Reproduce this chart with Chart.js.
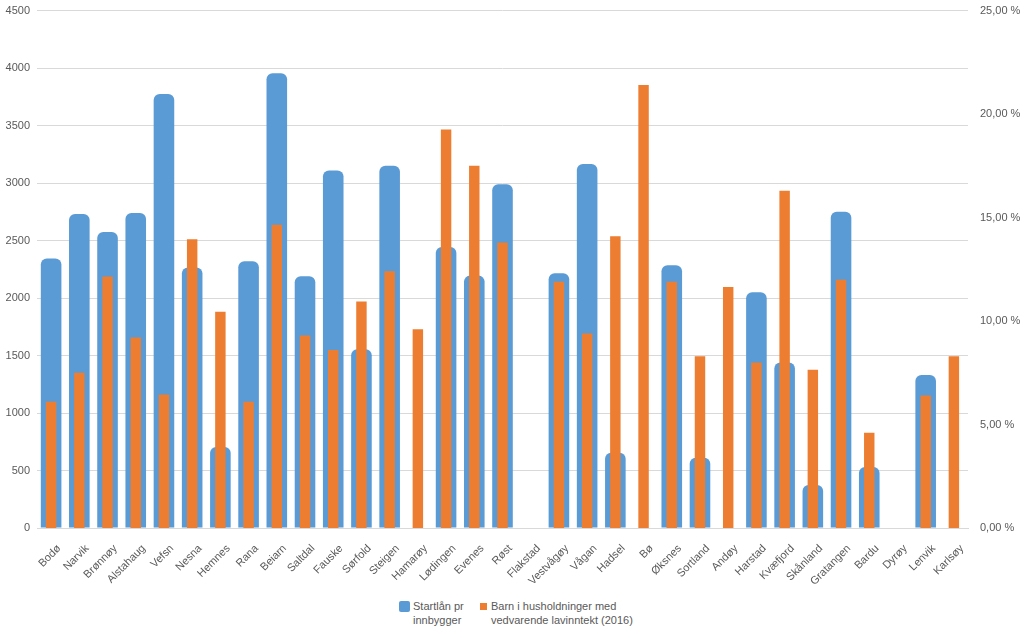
<!DOCTYPE html>
<html>
<head>
<meta charset="utf-8">
<script src="https://cdn.jsdelivr.net/npm/chart.js@4/dist/chart.umd.min.js"></script>
<style>
    body { margin: 0; background: #ffffff; font-family: 'Liberation Sans', Arial, sans-serif; overflow: hidden; }
    #wrap { position: relative; width: 1024px; height: 640px; overflow: hidden; }
    #chartBox { position: absolute; left: 0; top: -8px; width: 1024px; height: 593px; }
    .legend { position: absolute; top: 599px; font-size: 11px; line-height: 14px; color: #595959; }
    .legend .box { position: absolute; left: 0; top: 2px; }
    .legend span.txt { display: block; }
</style>
</head>
<body>
<div id="wrap">
    <div id="chartBox"><canvas id="chart"></canvas></div>
    <div class="legend" style="left:399px;">
        <div class="box" style="width:11px;height:11px;background:#5b9bd5;border-radius:2px;"></div>
        <span class="txt" style="padding-left:14px;">Startlån pr<br>innbygger</span>
    </div>
    <div class="legend" style="left:480px;">
        <div class="box" style="width:7px;height:7px;top:4px;background:#ed7d31;"></div>
        <span class="txt" style="padding-left:11px;">Barn i husholdninger med<br>vedvarende lavinntekt (2016)</span>
    </div>
</div>
<script>
// ============================================
// DATA
// ============================================

const kommuner = ['Bodø', 'Narvik', 'Brønnøy', 'Alstahaug', 'Vefsn', 'Nesna', 'Hemnes', 'Rana',
    'Beiarn', 'Saltdal', 'Fauske', 'Sørfold', 'Steigen', 'Hamarøy', 'Lødingen', 'Evenes', 'Røst',
    'Flakstad', 'Vestvågøy', 'Vågan', 'Hadsel', 'Bø', 'Øksnes', 'Sortland', 'Andøy', 'Harstad',
    'Kvæfjord', 'Skånland', 'Gratangen', 'Bardu', 'Dyrøy', 'Lenvik', 'Karlsøy'];

// Startlån pr innbygger (left axis)
const startlan = [2345, 2730, 2575, 2740, 3775, 2265, 705, 2320,
    3955, 2190, 3110, 1555, 3150, null, 2445, 2195, 2990,
    null, 2215, 3165, 655, null, 2285, 610, null, 2050,
    1440, 375, 2750, 530, null, 1330, null];

// Barn i husholdninger med vedvarende lavinntekt (2016), percent (right axis)
const lavinntekt = [6.1, 7.5, 12.15, 9.2, 6.45, 13.95, 10.45, 6.1,
    14.65, 9.3, 8.6, 10.95, 12.4, 9.6, 19.25, 17.5, 13.8,
    null, 11.9, 9.4, 14.1, 21.4, 11.9, 8.3, 11.65, 8.0,
    16.3, 7.65, 12.0, 4.6, null, 6.4, 8.3];

const leftTicks = [0, 500, 1000, 1500, 2000, 2500, 3000, 3500, 4000, 4500];
const rightTicks = [0, 5, 10, 15, 20, 25];

// ============================================
// CHART
// ============================================

const tickColor = '#595959';
const gridColor = '#d9d9d9';
const tickFont = { family: "'Liberation Sans', Arial, sans-serif", size: 11 };

new Chart(document.getElementById('chart'), {
    type: 'bar',
    data: {
        labels: kommuner,
        datasets: [{
            label: 'Startlån pr innbygger',
            data: startlan,
            yAxisID: 'y',
            backgroundColor: '#5b9bd5',
            borderRadius: 6,
            borderSkipped: 'start',
            barPercentage: 0.73,
            categoryPercentage: 1,
            grouped: false,
            order: 1
        }, {
            label: 'Barn i husholdninger med vedvarende lavinntekt (2016)',
            data: lavinntekt,
            yAxisID: 'y1',
            backgroundColor: '#ed7d31',
            barPercentage: 0.37,
            categoryPercentage: 1,
            grouped: false,
            order: 0
        }]
    },
    options: {
        responsive: true,
        maintainAspectRatio: false,
        animation: false,
        layout: { padding: { top: 2, left: 0, right: 0 } },
        plugins: {
            legend: { display: false },
            tooltip: { enabled: true }
        },
        scales: {
            x: {
                grid: { display: false },
                border: { display: true, color: gridColor },
                ticks: {
                    color: tickColor,
                    font: tickFont,
                    minRotation: 45,
                    maxRotation: 45,
                    autoSkip: false,
                    padding: 6,
                    labelOffset: 8
                },
                afterFit: (axis) => { axis.height = 57; }
            },
            y: {
                position: 'left',
                min: 0,
                max: 4500,
                afterBuildTicks: (axis) => { axis.ticks = leftTicks.map(v => ({ value: v })); },
                grid: { color: gridColor, drawTicks: false },
                border: { display: false },
                ticks: { color: tickColor, font: tickFont, padding: 7, callback: (v) => String(v) },
                afterFit: (axis) => { axis.width = 37; }
            },
            y1: {
                position: 'right',
                min: 0,
                max: 25,
                afterBuildTicks: (axis) => { axis.ticks = rightTicks.map(v => ({ value: v })); },
                grid: { display: false, drawTicks: false },
                border: { display: false },
                ticks: {
                    color: tickColor,
                    font: tickFont,
                    padding: 12,
                    callback: (v) => v.toFixed(2).replace('.', ',') + ' %'
                },
                afterFit: (axis) => { axis.width = 56; }
            }
        }
    }
});
</script>
</body>
</html>
